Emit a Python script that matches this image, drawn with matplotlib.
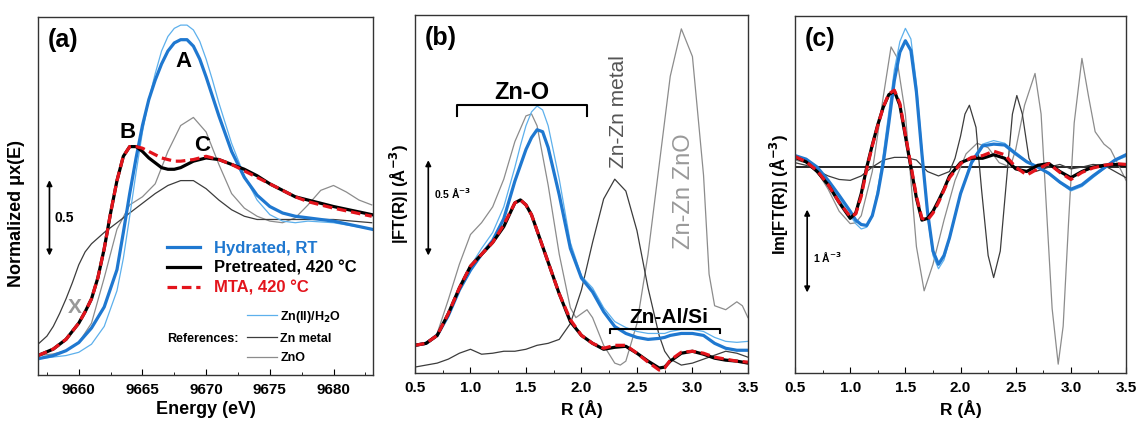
import numpy as np
import matplotlib
matplotlib.use("Agg")
import matplotlib.pyplot as plt
from matplotlib.lines import Line2D
from matplotlib.ticker import MultipleLocator

plt.rcParams['font.family'] = ['Liberation Sans', 'DejaVu Sans']
plt.rcParams['font.weight'] = 'bold'

# --- colours ---
C_HYD = '#1f78d0'
C_H2O = '#5db0ec'
C_PRE = '#000000'
C_MTA = '#e3141c'
C_MET = '#3c3c3c'
C_ZNO = '#8c8c8c'

# ---------------- panel (a): XANES ----------------
e_hyd = [9656.8, 9658, 9659, 9660, 9661, 9662, 9663, 9663.5, 9664, 9664.5, 9665, 9665.5, 9666, 9666.5, 9667,
         9667.5, 9668, 9668.5, 9669, 9669.5, 9670, 9670.5, 9671, 9672, 9673, 9674, 9675, 9676, 9677, 9678, 9680, 9683]
a_hyd = [0.0, 0.02, 0.05, 0.1, 0.19, 0.32, 0.55, 0.78, 1.02, 1.24, 1.44, 1.6, 1.72, 1.82, 1.9,
         1.95, 1.97, 1.97, 1.93, 1.85, 1.74, 1.62, 1.5, 1.28, 1.12, 1.01, 0.94, 0.9, 0.88, 0.87, 0.85, 0.8]

e_h2o = [9656.8, 9659, 9660, 9661, 9662, 9663, 9663.5, 9664, 9664.5, 9665, 9665.5, 9666, 9666.5, 9667, 9667.5,
         9668, 9668.5, 9669, 9669.5, 9670, 9670.5, 9671, 9672, 9673, 9674, 9675, 9676, 9677, 9678, 9680, 9683]
a_h2o = [0.0, 0.02, 0.04, 0.09, 0.2, 0.42, 0.62, 0.88, 1.15, 1.4, 1.6, 1.76, 1.9, 1.99, 2.04,
         2.06, 2.06, 2.03, 1.96, 1.85, 1.72, 1.58, 1.33, 1.13, 0.98, 0.89, 0.85, 0.84, 0.85, 0.84, 0.8]

e_pre = [9656.8, 9658, 9659, 9660, 9660.5, 9661, 9661.5, 9662, 9662.5, 9663, 9663.5, 9664, 9664.5, 9665, 9665.5,
         9666, 9666.5, 9667, 9667.5, 9668, 9669, 9670, 9671, 9672, 9673, 9674, 9675, 9676, 9677, 9678, 9680, 9683]
a_pre = [0.02, 0.06, 0.12, 0.22, 0.29, 0.37, 0.5, 0.68, 0.9, 1.1, 1.25, 1.31, 1.31, 1.28, 1.24,
         1.21, 1.18, 1.17, 1.17, 1.18, 1.22, 1.24, 1.23, 1.2, 1.17, 1.13, 1.08, 1.04, 1.0, 0.98, 0.94, 0.89]
a_mta = [0.02, 0.06, 0.12, 0.22, 0.29, 0.37, 0.5, 0.68, 0.9, 1.1, 1.25, 1.31, 1.31, 1.3, 1.28,
         1.26, 1.24, 1.23, 1.22, 1.22, 1.23, 1.25, 1.23, 1.2, 1.16, 1.12, 1.08, 1.04, 1.0, 0.97, 0.93, 0.88]

e_met = [9656.8, 9657.5, 9658, 9658.5, 9659, 9659.5, 9660, 9660.5, 9661, 9662, 9663, 9664, 9665, 9666, 9667,
         9668, 9669, 9670, 9671, 9672, 9673, 9674, 9675, 9677, 9680, 9683]
a_met = [0.09, 0.14, 0.2, 0.28, 0.37, 0.47, 0.58, 0.66, 0.71, 0.78, 0.84, 0.9, 0.96, 1.02, 1.07,
         1.1, 1.1, 1.05, 0.98, 0.92, 0.88, 0.86, 0.86, 0.86, 0.86, 0.84]

e_zno = [9656.8, 9658, 9659, 9660, 9661, 9662, 9663, 9664, 9665, 9666, 9667, 9668, 9669, 9670, 9671,
         9672, 9673, 9674, 9675, 9676, 9677, 9678, 9679, 9680, 9681, 9682, 9683]
a_zno = [0.02, 0.03, 0.05, 0.1, 0.22, 0.5, 0.8, 0.95, 1.0, 1.08, 1.28, 1.44, 1.49, 1.4, 1.2,
         1.02, 0.93, 0.88, 0.85, 0.84, 0.87, 0.95, 1.04, 1.07, 1.03, 0.98, 0.95]

# ---------------- panel (b): |FT| ----------------
r_b = [0.5, 0.6, 0.7, 0.8, 0.9, 1.0, 1.1, 1.2, 1.3, 1.4, 1.45, 1.5, 1.55, 1.6, 1.65, 1.7, 1.8, 1.9, 2.0,
       2.1, 2.2, 2.3, 2.4, 2.5, 2.6, 2.7, 2.75, 2.8, 2.9, 3.0, 3.1, 3.2, 3.3, 3.4, 3.5]
b_hyd = [0.14, 0.15, 0.19, 0.29, 0.42, 0.52, 0.6, 0.67, 0.78, 0.97, 1.05, 1.13, 1.19, 1.23, 1.22, 1.14, 0.9, 0.63, 0.48,
         0.41, 0.31, 0.235, 0.2, 0.18, 0.17, 0.175, 0.18, 0.19, 0.2, 0.2, 0.19, 0.15, 0.125, 0.115, 0.115]
b_h2o = [0.14, 0.15, 0.19, 0.3, 0.43, 0.54, 0.63, 0.71, 0.84, 1.04, 1.15, 1.25, 1.32, 1.35, 1.33, 1.25, 0.98, 0.66, 0.49,
         0.43, 0.33, 0.26, 0.23, 0.21, 0.2, 0.2, 0.2, 0.21, 0.22, 0.22, 0.21, 0.18, 0.16, 0.155, 0.16]
b_pre = [0.14, 0.15, 0.19, 0.3, 0.43, 0.54, 0.6, 0.66, 0.74, 0.86, 0.875, 0.85, 0.8, 0.72, 0.64, 0.56, 0.4, 0.26, 0.19,
         0.15, 0.12, 0.13, 0.135, 0.1, 0.06, 0.025, 0.03, 0.06, 0.1, 0.11, 0.095, 0.075, 0.065, 0.06, 0.05]
b_mta = [0.14, 0.15, 0.19, 0.3, 0.43, 0.54, 0.6, 0.66, 0.75, 0.86, 0.875, 0.85, 0.8, 0.72, 0.64, 0.56, 0.4, 0.27, 0.19,
         0.15, 0.125, 0.14, 0.14, 0.1, 0.055, 0.015, 0.025, 0.065, 0.105, 0.11, 0.1, 0.08, 0.07, 0.06, 0.055]
b_met = [0.03, 0.04, 0.05, 0.07, 0.1, 0.12, 0.095, 0.1, 0.11, 0.11, 0.115, 0.12, 0.13, 0.14, 0.145, 0.15, 0.17, 0.25, 0.42,
         0.66, 0.88, 0.98, 0.92, 0.72, 0.43, 0.19, 0.11, 0.07, 0.04, 0.05, 0.07, 0.09, 0.11, 0.1, 0.08]
r_zno = [0.5, 0.6, 0.7, 0.8, 0.9, 1.0, 1.1, 1.2, 1.3, 1.4, 1.5, 1.55, 1.6, 1.7, 1.8, 1.9, 1.95, 2.0, 2.05, 2.1,
         2.2, 2.3, 2.35, 2.4, 2.5, 2.6, 2.7, 2.8, 2.9, 3.0, 3.1, 3.15, 3.2, 3.3, 3.4, 3.45, 3.5]
b_zno = [0.14, 0.15, 0.2, 0.37, 0.55, 0.7, 0.76, 0.84, 0.98, 1.17, 1.3, 1.31, 1.25, 0.95, 0.6, 0.33, 0.28, 0.3, 0.32, 0.28,
         0.14, 0.05, 0.04, 0.06, 0.25, 0.6, 1.05, 1.5, 1.74, 1.6, 1.0, 0.5, 0.34, 0.32, 0.36, 0.34, 0.28]

# ---------------- panel (c): Im[FT] ----------------
r_c = [0.5, 0.6, 0.7, 0.8, 0.9, 1.0, 1.05, 1.1, 1.15, 1.2, 1.25, 1.3, 1.35, 1.4, 1.45, 1.5, 1.55, 1.6, 1.65, 1.7,
       1.75, 1.8, 1.85, 1.9, 2.0, 2.1, 2.2, 2.3, 2.4, 2.5, 2.6, 2.7, 2.8, 2.9, 3.0, 3.1, 3.2, 3.3, 3.4, 3.5]
c_hyd = [0.13, 0.09, 0.0, -0.15, -0.32, -0.5, -0.6, -0.65, -0.66, -0.55, -0.3, 0.05, 0.5, 0.98, 1.3, 1.43, 1.32, 0.85, 0.15, -0.5,
         -0.95, -1.1, -1.0, -0.8, -0.3, 0.05, 0.24, 0.26, 0.25, 0.15, 0.06, 0.0, -0.07, -0.17, -0.25, -0.2, -0.1, -0.01, 0.08, 0.14]
c_h2o = [0.12, 0.07, -0.02, -0.18, -0.36, -0.55, -0.64, -0.7, -0.68, -0.55, -0.25, 0.15, 0.62, 1.1, 1.42, 1.57, 1.45, 0.95, 0.2, -0.55,
         -1.0, -1.15, -1.05, -0.82, -0.3, 0.08, 0.26, 0.3, 0.27, 0.17, 0.07, 0.0, -0.08, -0.18, -0.27, -0.22, -0.12, -0.02, 0.07, 0.12]
c_pre = [0.11, 0.06, -0.05, -0.2, -0.4, -0.58, -0.52, -0.3, 0.0, 0.25, 0.48, 0.68, 0.82, 0.86, 0.7, 0.35, 0.0, -0.35, -0.6, -0.58,
         -0.5, -0.38, -0.25, -0.1, 0.05, 0.1, 0.1, 0.14, 0.1, -0.02, -0.05, 0.02, 0.04, -0.05, -0.12, -0.05, 0.0, 0.02, 0.03, 0.02]
c_mta = [0.12, 0.06, -0.04, -0.2, -0.4, -0.56, -0.53, -0.33, -0.02, 0.24, 0.47, 0.68, 0.83, 0.87, 0.72, 0.37, 0.02, -0.33, -0.58, -0.6,
         -0.52, -0.4, -0.26, -0.12, 0.04, 0.11, 0.13, 0.18, 0.14, 0.0, -0.09, -0.02, 0.04, -0.06, -0.14, -0.06, -0.01, 0.02, 0.04, 0.03]

r_met = [0.5, 0.6, 0.7, 0.8, 0.9, 1.0, 1.1, 1.2, 1.3, 1.4, 1.5, 1.6, 1.7, 1.8, 1.9, 1.95, 2.0, 2.04, 2.08, 2.14,
         2.19, 2.25, 2.3, 2.36, 2.42, 2.47, 2.51, 2.56, 2.62, 2.68, 2.8, 2.9, 3.0, 3.1, 3.2, 3.3, 3.4, 3.5]
c_met = [0.05, 0.02, -0.04, -0.1, -0.14, -0.15, -0.1, 0.0, 0.08, 0.11, 0.11, 0.08, -0.05, -0.1, -0.05, 0.1, 0.35, 0.6, 0.7, 0.45,
         -0.25, -1.0, -1.25, -0.95, -0.1, 0.6, 0.81, 0.6, 0.1, -0.05, 0.0, 0.03, -0.02, 0.0, 0.03, 0.02, -0.05, -0.12]

r_zno_c = [0.5, 0.6, 0.7, 0.8, 0.9, 1.0, 1.05, 1.1, 1.2, 1.3, 1.37, 1.42, 1.5, 1.6, 1.67, 1.75, 1.85, 1.95, 2.05, 2.15,
           2.25, 2.35, 2.45, 2.5, 2.58, 2.675, 2.73, 2.78, 2.83, 2.885, 2.93, 2.98, 3.03, 3.1, 3.16, 3.22, 3.3, 3.36, 3.42, 3.5]
c_zno = [0.08, 0.05, -0.05, -0.25, -0.5, -0.64, -0.63, -0.55, -0.05, 0.8, 1.36, 1.25, 0.6, -0.9, -1.4, -1.1, -0.6, -0.15, 0.15, 0.27,
         0.22, 0.05, 0.0, 0.2, 0.7, 1.06, 0.6, -0.5, -1.6, -2.23, -1.8, -0.6, 0.5, 1.23, 0.8, 0.4, 0.26, 0.2, 0.05, -0.15]

fig = plt.figure(figsize=(11.41, 4.23), dpi=100)
ax_a = fig.add_axes([0.0333, 0.1135, 0.2936, 0.8463])
ax_b = fig.add_axes([0.3637, 0.1182, 0.2918, 0.8463])
ax_c = fig.add_axes([0.6968, 0.1182, 0.2901, 0.8440])

TH, TN = 2.3, 0.9
dash = (3, 1.5)


def style(ax):
    for s in ax.spines.values():
        s.set_color('#333333')
        s.set_linewidth(1.0)
    ax.tick_params(axis='x', which='both', direction='in', top=False, labelsize=11, pad=6)
    ax.tick_params(axis='x', which='major', length=4)
    ax.tick_params(axis='x', which='minor', length=2)
    ax.set_yticks([])
    for lab in ax.get_xticklabels():
        lab.set_fontweight('bold')


# ---- (a)
ax = ax_a
ax.plot(e_zno, a_zno, color=C_ZNO, lw=TN)
ax.plot(e_met, a_met, color=C_MET, lw=TN)
ax.plot(e_h2o, a_h2o, color=C_H2O, lw=TN)
ax.plot(e_hyd, a_hyd, color=C_HYD, lw=TH)
ax.plot(e_pre, a_pre, color=C_PRE, lw=TH)
ax.plot(e_pre, a_mta, color=C_MTA, lw=TH, dashes=dash)
ax.set_xlim(9656.8, 9683.1)
ax.set_ylim(-0.1, 2.11)
ax.xaxis.set_major_locator(MultipleLocator(5))
ax.xaxis.set_minor_locator(MultipleLocator(2.5))
style(ax)
ax.set_xlabel('Energy (eV)', fontsize=13, fontweight='bold', labelpad=3)
ax.set_ylabel('Normalized \u03bcx(E)', fontsize=13, fontweight='bold')
ax.yaxis.set_label_coords(-0.04, 0.45)
ax.text(0.03, 0.97, '(a)', transform=ax.transAxes, fontsize=18, fontweight='bold', va='top')
ax.text(9668.2, 1.8, 'A', fontsize=16, fontweight='bold', ha='center')
ax.text(9663.8, 1.36, 'B', fontsize=16, fontweight='bold', ha='center')
ax.text(9669.7, 1.28, 'C', fontsize=16, fontweight='bold', ha='center')
ax.text(9659.7, 0.28, 'X', fontsize=15, fontweight='bold', color='#999999', ha='center')
ax.annotate('', xy=(9657.7, 0.62), xytext=(9657.7, 1.12),
            arrowprops=dict(arrowstyle='<|-|>', color='black', lw=1.2, mutation_scale=8))
ax.text(9658.1, 0.87, '0.5', fontsize=10, fontweight='bold', va='center')

main_handles = [Line2D([], [], color=C_HYD, lw=TH), Line2D([], [], color=C_PRE, lw=TH),
                Line2D([], [], color=C_MTA, lw=TH, dashes=dash)]
leg1 = ax.legend(main_handles, ['Hydrated, RT', 'Pretreated, 420 \u00b0C', 'MTA, 420 \u00b0C'],
                 loc='upper left', bbox_to_anchor=(0.385, 0.375), frameon=False, fontsize=12,
                 handlelength=2.0, handletextpad=0.8, labelspacing=0.3, borderpad=0, borderaxespad=0)
for t, c in zip(leg1.get_texts(), [C_HYD, C_PRE, C_MTA]):
    t.set_color(c)
    t.set_fontweight('bold')
ax.add_artist(leg1)
ref_handles = [Line2D([], [], color=C_H2O, lw=TN), Line2D([], [], color=C_MET, lw=TN),
               Line2D([], [], color=C_ZNO, lw=TN)]
leg2 = ax.legend(ref_handles, ['Zn(II)/H$_2$O', 'Zn metal', 'ZnO'], loc='upper left',
                 bbox_to_anchor=(0.624, 0.185), frameon=False, fontsize=9, handlelength=2.4,
                 handletextpad=0.25, labelspacing=0.62, borderpad=0, borderaxespad=0)
for t in leg2.get_texts():
    t.set_fontweight('bold')
ax.text(0.6, 0.1, 'References:', transform=ax.transAxes, fontsize=9, fontweight='bold',
        ha='right', va='center')

# ---- (b)
ax = ax_b
ax.plot(r_zno, b_zno, color=C_ZNO, lw=TN)
ax.plot(r_b, b_met, color=C_MET, lw=TN)
ax.plot(r_b, b_h2o, color=C_H2O, lw=TN)
ax.plot(r_b, b_hyd, color=C_HYD, lw=TH)
ax.plot(r_b, b_pre, color=C_PRE, lw=TH)
ax.plot(r_b, b_mta, color=C_MTA, lw=TH, dashes=dash)
ax.set_xlim(0.5, 3.5)
ax.set_ylim(0, 1.81)
ax.xaxis.set_major_locator(MultipleLocator(0.5))
ax.xaxis.set_minor_locator(MultipleLocator(0.25))
style(ax)
ax.set_xlabel('R (\u00c5)', fontsize=12.5, fontweight='bold', labelpad=3)
ax.set_ylabel('|FT(R)| (\u00c5$^{-3}$)', fontsize=12, fontweight='bold', labelpad=3)
ax.text(0.03, 0.97, '(b)', transform=ax.transAxes, fontsize=18, fontweight='bold', va='top')
ax.plot([0.875, 0.875, 2.05, 2.05], [1.30, 1.355, 1.355, 1.30], color='black', lw=1.5)
ax.text(1.46, 1.385, 'Zn-O', fontsize=17, fontweight='bold', ha='center')
ax.plot([2.26, 2.26, 3.25, 3.25], [0.2, 0.22, 0.22, 0.2], color='black', lw=1.5)
ax.text(2.79, 0.255, 'Zn-Al/Si', fontsize=15, fontweight='bold', ha='center')
ax.text(2.33, 1.32, 'Zn-Zn metal', fontsize=15, fontweight='normal', color='#555555',
        rotation=90, ha='center', va='center')
ax.text(2.92, 0.92, 'Zn-Zn ZnO', fontsize=17, fontweight='normal', color='#999999',
        rotation=90, ha='center', va='center')
ax.annotate('', xy=(0.62, 0.58), xytext=(0.62, 1.09),
            arrowprops=dict(arrowstyle='<|-|>', color='black', lw=1.2, mutation_scale=8))
ax.text(0.67, 0.91, '0.5 \u00c5$^{-3}$', fontsize=7.5, fontweight='bold', va='center')

# ---- (c)
ax = ax_c
ax.axhline(0, color='black', lw=1.2)
ax.plot(r_zno_c, c_zno, color=C_ZNO, lw=TN)
ax.plot(r_met, c_met, color=C_MET, lw=TN)
ax.plot(r_c, c_h2o, color=C_H2O, lw=TN)
ax.plot(r_c, c_hyd, color=C_HYD, lw=TH)
ax.plot(r_c, c_pre, color=C_PRE, lw=TH)
ax.plot(r_c, c_mta, color=C_MTA, lw=TH, dashes=dash)
ax.set_xlim(0.5, 3.5)
ax.set_ylim(-2.33, 1.71)
ax.xaxis.set_major_locator(MultipleLocator(0.5))
ax.xaxis.set_minor_locator(MultipleLocator(0.25))
style(ax)
ax.set_xlabel('R (\u00c5)', fontsize=12.5, fontweight='bold', labelpad=3)
ax.set_ylabel('Im[FT(R)] (\u00c5$^{-3}$)', fontsize=12, fontweight='bold', labelpad=3)
ax.text(0.03, 0.97, '(c)', transform=ax.transAxes, fontsize=18, fontweight='bold', va='top')
ax.annotate('', xy=(0.61, -1.45), xytext=(0.61, -0.45),
            arrowprops=dict(arrowstyle='<|-|>', color='black', lw=1.2, mutation_scale=8))
ax.text(0.66, -1.02, '1 \u00c5$^{-3}$', fontsize=7.5, fontweight='bold', va='center')

fig.savefig('out.png', dpi=100)
